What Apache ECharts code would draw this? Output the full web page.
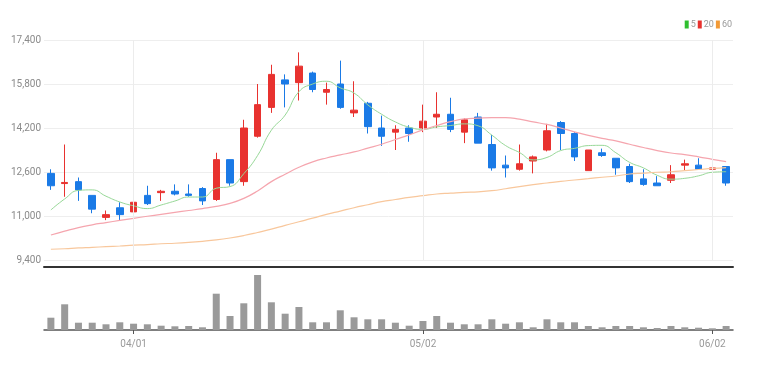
<!DOCTYPE html>
<html>
<head>
<meta charset="utf-8">
<script src="https://cdn.jsdelivr.net/npm/echarts@6/dist/echarts.min.js"></script>
<style>
html,body{margin:0;padding:0;background:#fff;}
#c{width:757px;height:371px;}
</style>
</head>
<body>
<div id="c"></div>
<script>
var dates = ['03/24','03/25','03/28','03/29','03/30','03/31','04/01','04/04','04/05','04/06',
'04/07','04/08','04/11','04/12','04/13','04/14','04/15','04/18','04/19','04/20',
'04/21','04/22','04/25','04/26','04/27','04/28','04/29','05/02','05/03','05/04',
'05/06','05/09','05/10','05/11','05/12','05/13','05/16','05/17','05/18','05/19',
'05/20','05/23','05/24','05/25','05/26','05/27','05/30','05/31','06/02','06/03'];
var tickLabels = ['04/01','05/02','06/02'];
var yTicks = [9400, 11000, 12600, 14200, 15800, 17400];

var opens  = [12550,12180,12250,11750,10950,11300,11150,11750,11850,11900,
11800,12000,11600,13050,12250,13900,14950,15950,15850,16200,
15500,15800,14750,15100,14200,14050,14200,14200,14600,14700,
14050,14600,13600,12850,12700,13000,13400,14400,14000,12650,
13300,13100,12800,12350,12200,12300,12850,12850,12700,12800];
var closes = [12100,12220,11950,11250,11050,11050,11500,11450,11900,11800,
11750,11550,13050,12200,14200,15050,16150,15800,16450,15600,
15600,14950,14850,14250,13900,14150,14000,14450,14700,14150,
14500,13650,12750,12750,12900,13150,14100,14000,13150,13400,
13200,12750,12250,12150,12100,12500,12900,12700,12750,12200];
var lows   = [11950,11700,11550,11100,10850,10850,11000,11400,11550,11750,
11700,11400,11550,12100,12100,13850,14750,14950,15200,15500,
15050,14900,14600,14000,13550,13400,13700,14050,14200,14050,
13650,13650,12650,12400,12650,12550,13350,13400,13000,12650,
13150,12500,12200,12100,12100,12200,12650,12700,12550,12100];
var highs  = [12700,13600,12400,11750,11200,11500,11600,12100,11950,12150,
12150,12050,13300,13050,14500,15800,16500,16150,16950,16250,
15850,16650,15900,15150,14650,14300,14300,15050,15500,15300,
14550,14750,13950,13200,13600,13200,14350,14450,14050,13400,
13450,13100,12900,12700,12450,12850,13050,13100,12900,12800];

var ma5  = [11220,11620,11930,11950,11720,11510,11370,11270,11400,11545,
11690,11690,12010,12070,12540,13200,14120,14670,15520,15800,
15900,15660,15470,15040,14700,14420,14230,14150,14240,14290,
14350,14280,13940,13560,13310,13040,13130,13380,13460,13560,
13570,13300,12950,12750,12480,12340,12370,12460,12590,12610];
var ma20 = [10310,10450,10580,10680,10760,10840,10916,10990,11060,11130,
11200,11270,11350,11460,11640,11910,12250,12520,12770,12970,
13110,13220,13330,13470,13610,13780,13950,14130,14290,14430,
14530,14560,14580,14580,14520,14420,14330,14200,14060,13930,
13820,13730,13610,13490,13380,13290,13230,13150,13060,12975];
var ma60 = [9790,9810,9840,9860,9885,9910,9940,9960,9990,10010,
10040,10080,10130,10200,10290,10400,10520,10660,10790,10920,
11060,11180,11300,11410,11520,11600,11680,11740,11800,11830,
11860,11880,11920,11990,12070,12140,12200,12260,12310,12360,
12410,12454,12527,12560,12590,12610,12650,12690,12730,12760];
var volumes = [123,257,73,73,57,77,63,57,43,37,
40,27,363,140,267,550,277,163,230,77,
77,197,127,107,107,73,43,90,140,73,
57,57,107,63,77,27,107,77,77,40,
27,40,40,27,20,40,27,23,17,40];
var seriesNames = ['5','20','60'];

var UP = '#e8322f', DOWN = '#1a7ae6';
var labelFont = '"Liberation Sans Narrow", "Roboto", sans-serif';

var candleData = dates.map(function(d, i){ return [opens[i], closes[i], lows[i], highs[i]]; });
function isTick(idx){ return tickLabels.indexOf(dates[idx]) >= 0; }

var chart = echarts.init(document.getElementById('c'), null, {renderer:'canvas'});
chart.setOption({
  animation: false,
  backgroundColor: '#fff',
  legend: {
    data: seriesNames,
    right: 25, top: 20,
    icon: 'rect', itemWidth: 4, itemHeight: 8, itemGap: 2,
    padding: 0,
    textStyle: {fontSize: 9, color: '#999', fontFamily: labelFont, padding:[0,0,0,-3]}
  },
  grid: [
    {left: 44, right: 24, top: 40, height: 220},
    {left: 44, right: 24, top: 275, height: 55}
  ],
  xAxis: [
    {type:'category', gridIndex:0, data:dates, boundaryGap:true,
     offset: 7,
     axisLine:{show:true, lineStyle:{color:'#333', width:2}},
     axisTick:{show:false}, axisLabel:{show:false}, splitLine:{show:false}},
    {type:'category', gridIndex:1, data:dates, boundaryGap:true,
     axisLine:{show:true, lineStyle:{color:'#555', width:1.5}},
     axisTick:{show:true, alignWithLabel:true, length:4, interval:function(i){return isTick(i);}, lineStyle:{color:'#555'}},
     axisLabel:{show:true, interval:function(i){return isTick(i);}, color:'#999', fontSize:10, margin:9, fontFamily: labelFont},
     splitLine:{show:false}}
  ],
  yAxis: [
    {type:'value', gridIndex:0, min:yTicks[0], max:yTicks[yTicks.length-1], interval:1600,
     axisLine:{show:false}, axisTick:{show:false},
     axisLabel:{color:'#8a8a8a', fontSize:10, margin:3, fontFamily: labelFont,
       formatter:function(v){ return v.toLocaleString('en-US'); }},
     splitLine:{show:true, lineStyle:{color:'#eeeeee', width:1}}},
    {type:'value', gridIndex:1, min:0, max:550, show:false, splitLine:{show:false}}
  ],
  series: [
    {type:'line', name:'grid-v', xAxisIndex:0, yAxisIndex:0, data:[], z:0, silent:true,
     markLine:{symbol:'none', silent:true, label:{show:false}, animation:false,
       lineStyle:{color:'#ececec', type:'solid', width:1},
       data: tickLabels.map(function(d){ return {xAxis:d}; })}},
    {type:'candlestick', xAxisIndex:0, yAxisIndex:0, data:candleData, barWidth:7,
     itemStyle:{color:UP, color0:DOWN, borderColor:UP, borderColor0:DOWN, borderWidth:1}},
    {type:'line', name:seriesNames[0], xAxisIndex:0, yAxisIndex:0, data:ma5, smooth:true, showSymbol:false,
     itemStyle:{color:'#2fbf2f'}, lineStyle:{color:'#97d897', width:1}},
    {type:'line', name:seriesNames[1], xAxisIndex:0, yAxisIndex:0, data:ma20, smooth:true, showSymbol:false,
     itemStyle:{color:'#e8322f'}, lineStyle:{color:'#f5a5ae', width:1.2}},
    {type:'line', name:seriesNames[2], xAxisIndex:0, yAxisIndex:0, data:ma60, smooth:true, showSymbol:false,
     itemStyle:{color:'#f29a36'}, lineStyle:{color:'#f8c79c', width:1.2}},
    {type:'bar', xAxisIndex:1, yAxisIndex:1, data:volumes, barWidth:7,
     itemStyle:{color:'#9a9a9a'}}
  ]
});
</script>
</body>
</html>
